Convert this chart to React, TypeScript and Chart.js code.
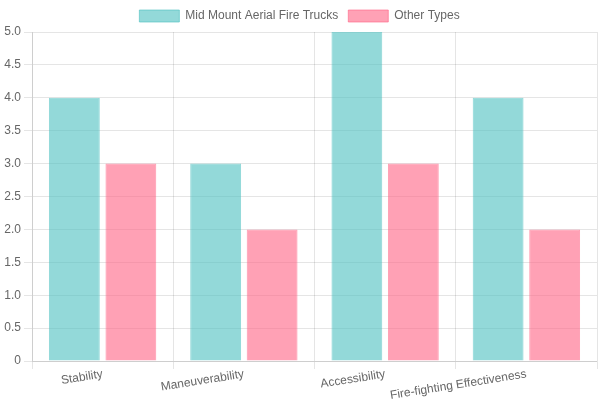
import React, { useEffect, useRef } from "react";
import { Chart, registerables } from "chart.js";

Chart.register(...registerables);

const categories = ["Stability", "Maneuverability", "Accessibility", "Fire-fighting Effectiveness"];
const midMountValues = [4, 3, 5, 4];
const otherTypesValues = [3, 2, 3, 2];
const seriesNames = ["Mid Mount Aerial Fire Trucks", "Other Types"];

export default function App() {
  const ref = useRef<HTMLCanvasElement | null>(null);
  useEffect(() => {
    document.body.style.margin = "0";
    if (!ref.current) return;
    const chart = new Chart(ref.current, {
      type: "bar",
      data: {
        labels: categories,
        datasets: [
          {
            label: seriesNames[0],
            data: midMountValues,
            backgroundColor: "rgba(75, 192, 192, 0.6)",
            borderColor: "rgba(75, 192, 192, 0.6)",
            borderWidth: 1,
          },
          {
            label: seriesNames[1],
            data: otherTypesValues,
            backgroundColor: "rgba(255, 99, 132, 0.6)",
            borderColor: "rgba(255, 99, 132, 0.6)",
            borderWidth: 1,
          },
        ],
      },
      options: {
        animation: false,
        responsive: true,
        maintainAspectRatio: false,
        layout: { padding: { left: 2, right: 3 } },
        scales: {
          x: {
            ticks: { minRotation: 9, maxRotation: 9, padding: -2 },
            afterFit: (scale: any) => {
              scale.height = 39;
            },
          },
          y: {
            beginAtZero: true,
            max: 5,
            afterFit: (scale: any) => {
              scale.width = 30;
            },
          },
        },
      },
    });
    return () => chart.destroy();
  }, []);
  return (
    <div style={{ width: "600px", height: "400px", position: "relative" }}>
      <canvas ref={ref} />
    </div>
  );
}
